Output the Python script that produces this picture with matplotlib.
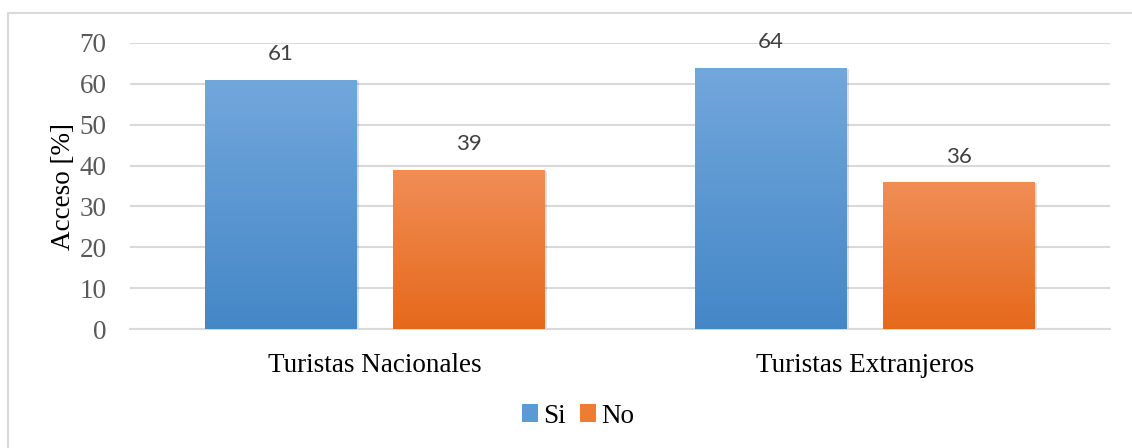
import numpy as np
import matplotlib.pyplot as plt
from matplotlib.colors import LinearSegmentedColormap
from matplotlib.patches import Rectangle

categories = ['Turistas Nacionales', 'Turistas Extranjeros']
si_values = [61, 64]
no_values = [39, 36]
series_names = ['Si', 'No']

serif = ['Liberation Serif', 'DejaVu Serif']
label_font = ['Lato', 'DejaVu Sans']

fig = plt.figure(figsize=(11.32, 4.48), dpi=100)
ax = fig.add_axes([130 / 1132, 1 - 329 / 448, 980 / 1132, (329 - 43) / 448])

# outer border of the chart area
fig.patches.append(Rectangle((8 / 1132, -0.1), 1.2, 1 - 13 / 448 + 0.1,
                             transform=fig.transFigure, fill=False,
                             edgecolor='#d9d9d9', linewidth=1.5))

x = np.arange(len(categories))
width = 0.31
offset = 0.192

blue_cmap = LinearSegmentedColormap.from_list('b', ['#4487c7', '#72a7dc'])
orange_cmap = LinearSegmentedColormap.from_list('o', ['#e5691b', '#f08e57'])

bars_si = ax.bar(x - offset, si_values, width, color='#5b9bd5', zorder=3,
                 label=series_names[0])
bars_no = ax.bar(x + offset, no_values, width, color='#ed7d31', zorder=3,
                 label=series_names[1])

grad = np.linspace(0, 1, 256).reshape(-1, 1)
for bars, cmap in [(bars_si, blue_cmap), (bars_no, orange_cmap)]:
    for b in bars:
        x0, w, h = b.get_x(), b.get_width(), b.get_height()
        # soft shadow
        ax.add_patch(Rectangle((x0 + 0.004, -0.4), w, h + 0.1,
                               color='#000000', alpha=0.12, zorder=2,
                               linewidth=0))
        im = ax.imshow(grad, extent=(x0, x0 + w, 0, h), origin='lower',
                       cmap=cmap, aspect='auto', zorder=4)
        im.set_clip_path(b)
        ax.text(x0 + w / 2, h + 6.2, f'{int(h)}', ha='center', va='center',
                fontsize=16, color='#404040', family=label_font, zorder=5)

ax.set_xlim(-0.5, 1.5)
ax.set_ylim(0, 70)
ax.set_yticks(range(0, 71, 10))
ax.yaxis.grid(True, color='#d9d9d9', linewidth=1.5, zorder=0)
ax.set_axisbelow(True)
for s in ['top', 'right', 'left']:
    ax.spines[s].set_visible(False)
ax.spines['bottom'].set_color('#d9d9d9')
ax.spines['bottom'].set_linewidth(1.5)
ax.tick_params(axis='both', length=0)
ax.tick_params(axis='y', pad=17, labelsize=19.5, labelcolor='#595959')
ax.tick_params(axis='x', pad=17, labelsize=19.5, labelcolor='black')
ax.set_xticks(x)
ax.set_xticklabels(categories, family=serif)
for t in ax.get_yticklabels():
    t.set_family(serif)
ax.set_ylabel('Acceso [%]', family=serif, fontsize=19.5, color='black', labelpad=2)

leg = ax.legend(loc='center', bbox_to_anchor=(578 / 1132, 1 - 416 / 448),
                bbox_transform=fig.transFigure, ncol=2, frameon=False,
                prop={'family': serif, 'size': 19.5}, handlelength=0.6,
                handleheight=0.6, handletextpad=0.2, columnspacing=0.5)

fig.savefig('out.png', dpi=100)
